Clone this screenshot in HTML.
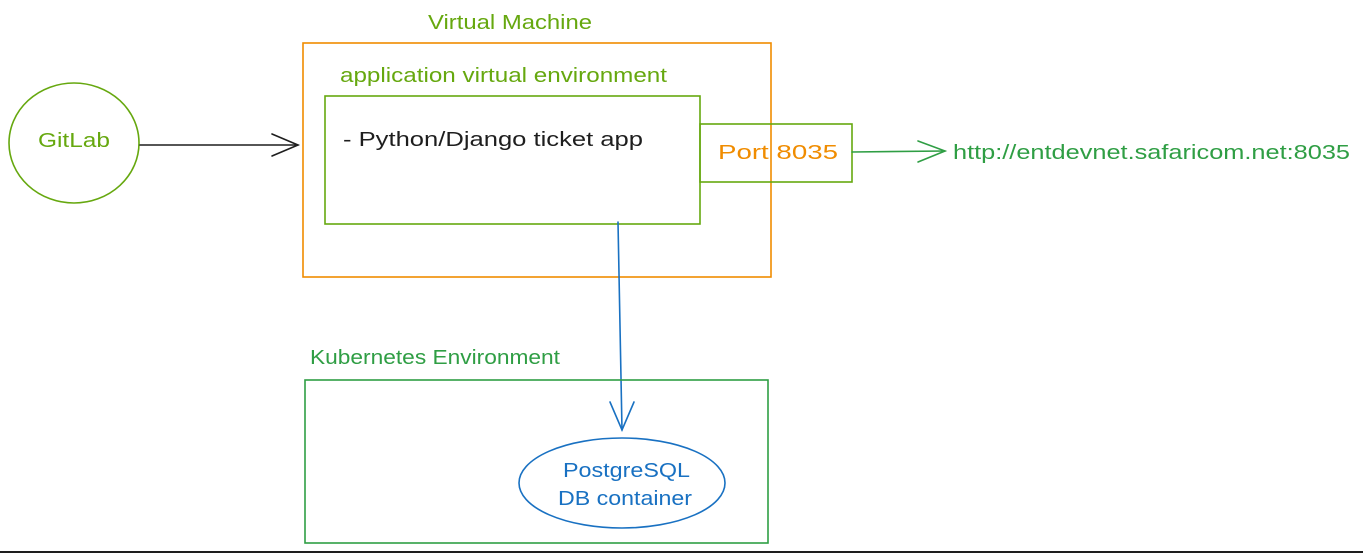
<!DOCTYPE html>
<html><head><meta charset="utf-8"><style>
html,body{margin:0;padding:0;background:#fff;width:1363px;height:554px;overflow:hidden}
svg{display:block}
text{font-family:"Liberation Sans",sans-serif;font-size:20px}
</style></head><body>
<svg width="1363" height="554" viewBox="0 0 1363 554" xmlns="http://www.w3.org/2000/svg">
<g fill="none" stroke-width="1.6" stroke-linecap="round">
<ellipse cx="74" cy="143" rx="65" ry="60" stroke="#66a80f"/>
<line x1="140" y1="145" x2="298" y2="145" stroke="#1e1e1e"/>
<path d="M272 134 L298 145 L272 156" stroke="#1e1e1e"/>
<rect x="303" y="43" width="468" height="234" stroke="#f08c00"/>
<rect x="325" y="96" width="375" height="128" stroke="#66a80f"/>
<rect x="700" y="124" width="152" height="58" stroke="#66a80f"/>
<line x1="852" y1="152" x2="945" y2="151" stroke="#2f9e44"/>
<path d="M918 141 L945 151 L918 162" stroke="#2f9e44"/>
<line x1="618" y1="222" x2="622" y2="430" stroke="#1971c2"/>
<path d="M610 402 L622 430 L634 402" stroke="#1971c2"/>
<rect x="305" y="380" width="463" height="163" stroke="#2f9e44"/>
<ellipse cx="622" cy="483" rx="103" ry="45" stroke="#1971c2"/>
</g>
<line x1="0" y1="552" x2="1363" y2="552" stroke="#1e1e1e" stroke-width="2"/>
<text x="38" y="147" fill="#66a80f" textLength="72" lengthAdjust="spacingAndGlyphs">GitLab</text>
<text x="428" y="29" fill="#66a80f" textLength="164" lengthAdjust="spacingAndGlyphs">Virtual Machine</text>
<text x="340" y="82" fill="#66a80f" textLength="327" lengthAdjust="spacingAndGlyphs">application virtual environment</text>
<text x="343" y="146" fill="#1e1e1e" textLength="300" lengthAdjust="spacingAndGlyphs">- Python/Django ticket app</text>
<text x="718" y="159" fill="#f08c00" textLength="120" lengthAdjust="spacingAndGlyphs">Port 8035</text>
<text x="953" y="159" fill="#2f9e44" textLength="397" lengthAdjust="spacingAndGlyphs">http://entdevnet.safaricom.net:8035</text>
<text x="310" y="364" fill="#2f9e44" textLength="250" lengthAdjust="spacingAndGlyphs">Kubernetes Environment</text>
<text x="563" y="477" fill="#1971c2" textLength="127" lengthAdjust="spacingAndGlyphs">PostgreSQL</text>
<text x="558" y="505" fill="#1971c2" textLength="134" lengthAdjust="spacingAndGlyphs">DB container</text>
</svg>
</body></html>
